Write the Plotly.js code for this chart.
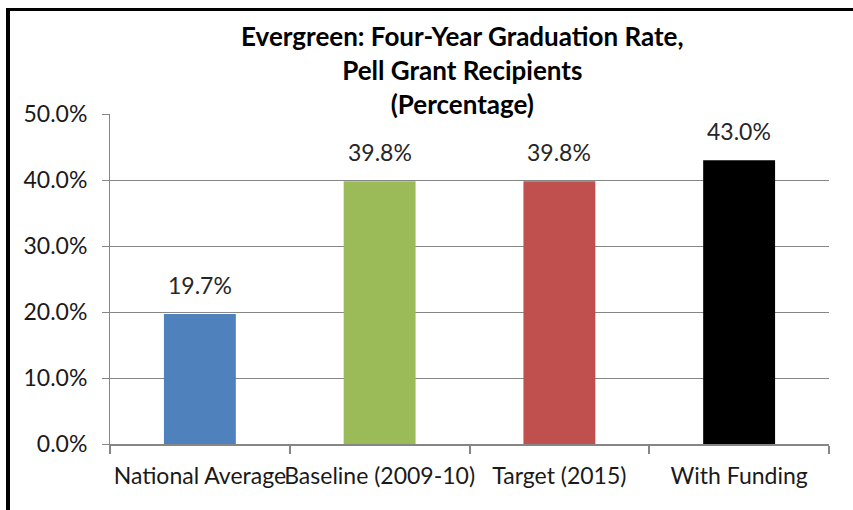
<!DOCTYPE html>
<html>
<head>
<meta charset="utf-8">
<script src="https://cdn.plot.ly/plotly-3.0.1.min.js"></script>
<style>
  body { margin: 0; background: #fff; }
  #chart { width: 853px; height: 510px; }
  #frame { position: absolute; left: 6px; top: 8px; width: 847px; height: 502px;
           border-left: 4px solid #000; border-top: 3px solid #000; pointer-events: none; }
</style>
</head>
<body>
<div id="chart"></div>
<div id="frame"></div>
<script>
CHART = document.getElementById('chart');

// kategori dan nilai (persen)
var categories = ['National Average', 'Baseline (2009-10)', 'Target (2015)', 'With Funding'];
var rates = [19.7, 39.8, 39.8, 43.0];
var barColors = ['#4F81BD', '#9BBB59', '#C0504D', '#000000'];
var yTicks = [0, 10, 20, 30, 40, 50];
var yTickLabels = ['0.0%', '10.0%', '20.0%', '30.0%', '40.0%', '50.0%'];

var data = [{
    x: categories,
    y: rates,
    type: 'bar',
    marker: {color: barColors},
    hoverinfo: 'none'
}];

// label di atas batang
var labels = categories.map(function (c, i) {
    return {
        x: c, y: rates[i], xref: 'x', yref: 'y',
        text: rates[i].toFixed(1) + '%',
        showarrow: false, yanchor: 'middle', yshift: 29,
        font: {size: 23, color: '#262626'}
    };
});

var layout = {
    title: {
        text: '<b>Evergreen: Four-Year Graduation Rate,<br>Pell Grant Recipients<br>(Percentage)</b>',
        font: {size: 26, color: '#000'},
        x: 0.49, xref: 'paper', xanchor: 'center',
        y: 1 - 46 / 510, yref: 'container', yanchor: 'middle'
    },
    font: {family: 'Lato, "Open Sans", sans-serif', size: 23, color: '#1a1a1a'},
    xaxis: {
        tickangle: 0,
        tickson: 'boundaries',
        ticks: 'outside', ticklen: 8, tickcolor: '#868686', tickwidth: 2,
        ticklabelstandoff: 10,
        showline: true, linecolor: '#868686', linewidth: 2,
        showgrid: false,
        automargin: false
    },
    yaxis: {
        range: [0, 50],
        tickvals: yTicks,
        ticktext: yTickLabels,
        ticks: 'outside', ticklen: 7, tickcolor: '#868686',
        ticklabelstandoff: 10,
        showline: true, linecolor: '#868686',
        showgrid: true, gridcolor: '#868686', gridwidth: 1,
        zeroline: false,
        automargin: false
    },
    bargap: 0.6,
    annotations: labels,
    showlegend: false,
    margin: {t: 114, b: 66, l: 110, r: 24},
    paper_bgcolor: '#fff',
    plot_bgcolor: '#fff'
};

Plotly.newPlot(CHART, data, layout, {displayModeBar: false, staticPlot: true});
</script>
</body>
</html>
